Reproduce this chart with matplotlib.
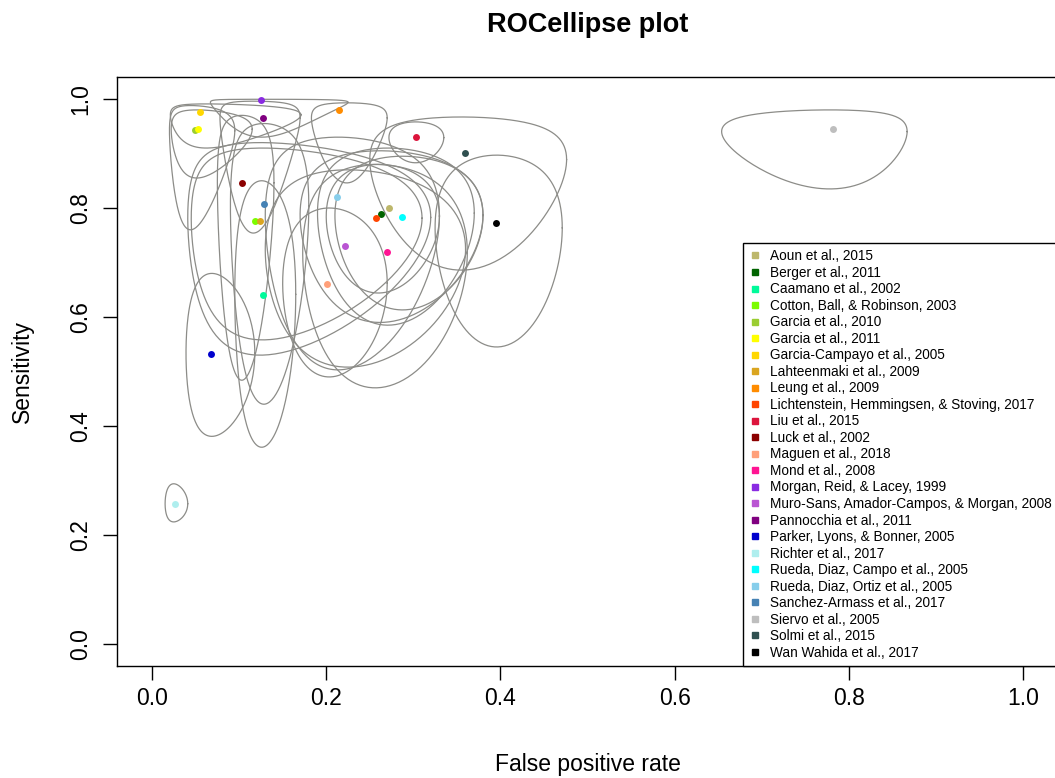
import numpy as np
import matplotlib
matplotlib.use("Agg")
import matplotlib.pyplot as plt
from matplotlib.lines import Line2D

plt.rcParams['font.family'] = ['Liberation Sans', 'DejaVu Sans']

studies = [
    "Aoun et al., 2015", "Berger et al., 2011", "Caamano et al., 2002",
    "Cotton, Ball, & Robinson, 2003", "Garcia et al., 2010", "Garcia et al., 2011",
    "Garcia-Campayo et al., 2005", "Lahteenmaki et al., 2009", "Leung et al., 2009",
    "Lichtenstein, Hemmingsen, & Stoving, 2017", "Liu et al., 2015", "Luck et al., 2002",
    "Maguen et al., 2018", "Mond et al., 2008", "Morgan, Reid, & Lacey, 1999",
    "Muro-Sans, Amador-Campos, & Morgan, 2008", "Pannocchia et al., 2011",
    "Parker, Lyons, & Bonner, 2005", "Richter et al., 2017",
    "Rueda, Diaz, Campo et al., 2005", "Rueda, Diaz, Ortiz et al., 2005",
    "Sanchez-Armass et al., 2017", "Siervo et al., 2005", "Solmi et al., 2015",
    "Wan Wahida et al., 2017",
]

colors = [
    "#BDB76B", "#006400", "#00FA9A", "#7CFC00", "#9ACD32", "#FFFF00", "#FFD700",
    "#DAA520", "#FF8C00", "#FF4500", "#DC143C", "#8B0000", "#FFA07A", "#FF1493",
    "#8A2BE2", "#BA55D3", "#800080", "#0000CD", "#AFEEEE", "#00FFFF", "#87CEEB",
    "#4682B4", "#BEBEBE", "#2F4F4F", "#000000",
]

# point estimates
fpr = [0.272, 0.263, 0.127, 0.118, 0.049, 0.053, 0.055, 0.124, 0.215, 0.257,
       0.303, 0.103, 0.201, 0.270, 0.125, 0.222, 0.127, 0.068, 0.026, 0.287,
       0.212, 0.129, 0.782, 0.359, 0.395]
sens = [0.800, 0.789, 0.640, 0.776, 0.943, 0.945, 0.976, 0.776, 0.980, 0.782,
        0.930, 0.846, 0.661, 0.719, 0.998, 0.730, 0.965, 0.532, 0.257, 0.783,
        0.820, 0.807, 0.945, 0.901, 0.772]

# extent of each 95% confidence region
fpr_lo = [0.190, 0.170, 0.095, 0.041, 0.020, 0.022, 0.021, 0.045, 0.183, 0.200,
          0.272, 0.075, 0.150, 0.173, 0.067, 0.130, 0.078, 0.039, 0.015, 0.210,
          0.130, 0.090, 0.654, 0.250, 0.325]
fpr_hi = [0.370, 0.380, 0.165, 0.320, 0.095, 0.115, 0.171, 0.310, 0.270, 0.330,
          0.335, 0.140, 0.270, 0.362, 0.225, 0.360, 0.170, 0.118, 0.041, 0.380,
          0.330, 0.180, 0.867, 0.476, 0.471]
sens_lo = [0.585, 0.590, 0.361, 0.530, 0.760, 0.855, 0.910, 0.558, 0.846, 0.644,
           0.883, 0.484, 0.490, 0.470, 0.930, 0.508, 0.754, 0.381, 0.224, 0.613,
           0.503, 0.440, 0.835, 0.686, 0.545]
sens_hi = [0.910, 0.905, 0.850, 0.920, 0.988, 0.980, 0.991, 0.910, 0.993, 0.880,
           0.958, 0.970, 0.800, 0.880, 0.9995, 0.870, 0.996, 0.680, 0.294, 0.895,
           0.930, 0.955, 0.980, 0.967, 0.897]


def logit(p):
    p = np.asarray(p, dtype=float)
    return np.log(p / (1 - p))


def expit(x):
    return 1 / (1 + np.exp(-x))


def roc_ellipse(lo_x, hi_x, lo_y, hi_y, n=240):
    # ellipse on the logit scale, mapped back to ROC space
    cx = (logit(lo_x) + logit(hi_x)) / 2
    rx = (logit(hi_x) - logit(lo_x)) / 2
    cy = (logit(lo_y) + logit(hi_y)) / 2
    ry = (logit(hi_y) - logit(lo_y)) / 2
    t = np.linspace(0, 2 * np.pi, n)
    return expit(cx + rx * np.cos(t)), expit(cy + ry * np.sin(t))


fig = plt.figure(figsize=(10.55, 7.78), dpi=100)
ax = fig.add_axes([117.2 / 1055, 112.2 / 778, 940.6 / 1055, 588.6 / 778])

for i in range(len(studies)):
    ex, ey = roc_ellipse(fpr_lo[i], fpr_hi[i], sens_lo[i], sens_hi[i])
    ax.plot(ex, ey, color="#8c8c88", lw=0.9, zorder=1)

for i in range(len(studies)):
    ax.plot(fpr[i], sens[i], "o", color=colors[i], markersize=5,
            markeredgewidth=0, zorder=3)

ax.set_xlim(-0.04, 1.04)
ax.set_ylim(-0.04, 1.04)
ticks = [0.0, 0.2, 0.4, 0.6, 0.8, 1.0]
tick_labels = ["0.0", "0.2", "0.4", "0.6", "0.8", "1.0"]
ax.set_xticks(ticks)
ax.set_xticklabels(tick_labels, fontsize=16.5)
ax.set_yticks(ticks)
ax.set_yticklabels(tick_labels, fontsize=16.5, rotation=90, va="center")
ax.tick_params(direction="out", length=10, width=1, pad=5)
ax.tick_params(axis="y", pad=8)
for s in ax.spines.values():
    s.set_linewidth(1)
    s.set_color("black")

ax.set_xlabel("False positive rate", fontsize=16.5, labelpad=31)
ax.set_ylabel("Sensitivity", fontsize=16.5, labelpad=25)
fig.text(0.557, 0.968, "ROCellipse plot", fontsize=19.5, fontweight="bold",
         ha="center", va="center")

handles = [Line2D([0], [0], marker="s", linestyle="none", color=c,
                  markersize=5) for c in colors]
leg = ax.legend(handles, studies, loc="lower right", bbox_to_anchor=(1.0, 0.0),
                borderaxespad=0, fontsize=9.8, frameon=True, fancybox=False,
                edgecolor="black", framealpha=1, handlelength=0.8,
                handletextpad=0.7, labelspacing=0.185, borderpad=0.45)
leg.get_frame().set_linewidth(1)

fig.savefig("out.png", dpi=100)
